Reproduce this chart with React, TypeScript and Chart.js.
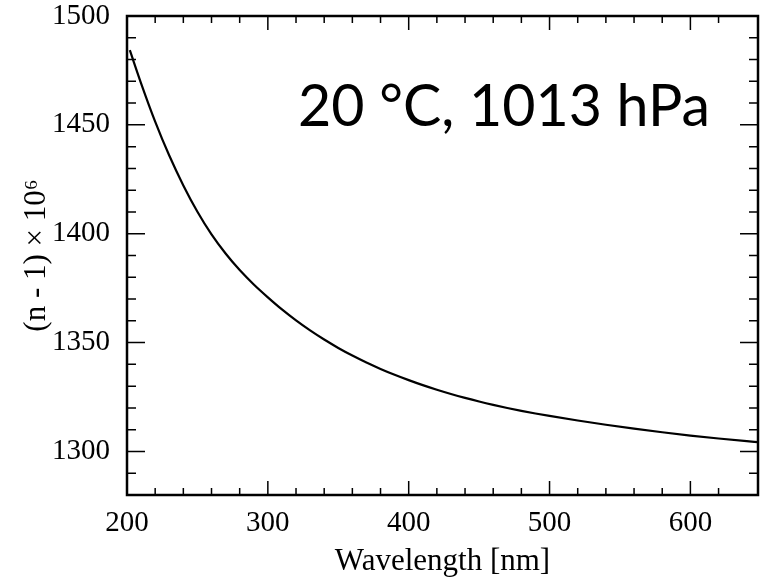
import React, { useEffect, useRef } from "react";
import { Chart, registerables } from "chart.js";

Chart.register(...registerables);

const wavelengths = [202, 210, 220, 230, 240, 250, 260, 270, 280, 290, 300, 310, 320, 330, 340, 350, 360, 370, 380, 390, 400, 410, 420, 430, 440, 450, 460, 470, 480, 490, 500, 520, 540, 560, 580, 600, 620, 640, 648];
const refractivity = [1484.3, 1469.1, 1451.5, 1435.9, 1422.2, 1410.1, 1399.7, 1390.9, 1383.3, 1376.7, 1370.8, 1365.25, 1360.2, 1355.6, 1351.4, 1347.55, 1344.05, 1340.85, 1337.92, 1335.24, 1332.77, 1330.45, 1328.34, 1326.4, 1324.6, 1322.93, 1321.39, 1319.97, 1318.66, 1317.45, 1316.33, 1314.21, 1312.25, 1310.45, 1308.81, 1307.3, 1305.94, 1304.71, 1304.25];
const annotationText = "20 °C, 1013 hPa";
const xTitle = "Wavelength [nm]";
const yTitle = "(n - 1) × 10⁶";

const SERIF = "'Liberation Serif', 'Times New Roman', 'DejaVu Serif', serif";

const framePlugin = {
  id: "frameTicks",
  afterDraw(chart: any) {
    const { ctx, chartArea } = chart;
    const { left, right, top, bottom } = chartArea;
    const xs = chart.scales.x;
    const ys = chart.scales.y;
    ctx.save();
    ctx.strokeStyle = "#000";
    ctx.lineWidth = 1.5;
    ctx.beginPath();
    xs.ticks.forEach((t: any) => {
      if (t.value % 20 !== 0) return;
      const px = xs.getPixelForValue(t.value);
      if (px <= left + 1 || px >= right - 1) return;
      const len = t.value % 100 === 0 ? 14 : 7;
      ctx.moveTo(px, bottom);
      ctx.lineTo(px, bottom - len);
      ctx.moveTo(px, top);
      ctx.lineTo(px, top + len);
    });
    ys.ticks.forEach((t: any) => {
      if (t.value % 10 !== 0) return;
      const py = ys.getPixelForValue(t.value);
      if (py <= top + 1 || py >= bottom - 1) return;
      const len = t.value % 50 === 0 ? 18 : 9;
      ctx.moveTo(left, py);
      ctx.lineTo(left + len, py);
      ctx.moveTo(right, py);
      ctx.lineTo(right - len, py);
    });
    ctx.stroke();
    ctx.lineWidth = 2.5;
    ctx.strokeRect(left, top, right - left, bottom - top);
    // annotation
    let size = 62;
    ctx.font = `${size}px 'Lato', 'Open Sans', sans-serif`;
    const w = ctx.measureText(annotationText).width;
    size = size * 412 / w;
    ctx.font = `${size}px 'Lato', 'Open Sans', sans-serif`;
    ctx.fillStyle = "#000";
    ctx.textAlign = "right";
    ctx.textBaseline = "alphabetic";
    ctx.fillText(annotationText, right - 48, top + 110);
    ctx.restore();
  },
};

export default function App() {
  const ref = useRef<HTMLCanvasElement | null>(null);
  useEffect(() => {
    if (!ref.current) return;
    const chart = new Chart(ref.current, {
      type: "line",
      data: {
        datasets: [
          {
            data: wavelengths.map((w, i) => ({ x: w, y: refractivity[i] })),
            borderColor: "#000",
            borderWidth: 2.2,
            pointRadius: 0,
            cubicInterpolationMode: "monotone",
            fill: false,
          },
        ],
      },
      options: {
        animation: false,
        responsive: true,
        maintainAspectRatio: false,
        layout: { padding: { top: 16, right: 5, left: 0, bottom: 0 } },
        plugins: { legend: { display: false }, tooltip: { enabled: false } },
        scales: {
          x: {
            type: "linear",
            min: 200,
            max: 648,
            afterFit: (s: any) => { s.height = 86; s.paddingLeft = 0; s.paddingRight = 0; },
            border: { display: false },
            grid: { display: false, drawTicks: false },
            ticks: {
              stepSize: 20,
              autoSkip: false,
              maxRotation: 0,
              padding: 11,
              color: "#000",
              font: { family: SERIF, size: 29 },
              callback: (v: any) => (v % 100 === 0 ? String(v) : ""),
            },
            title: {
              display: true,
              text: xTitle,
              color: "#000",
              font: { family: SERIF, size: 31 },
              padding: { top: 0, bottom: 1 },
            },
          },
          y: {
            type: "linear",
            min: 1280,
            max: 1500,
            afterFit: (s: any) => { s.width = 127; s.paddingTop = 0; s.paddingBottom = 0; },
            border: { display: false },
            grid: { display: false, drawTicks: false },
            ticks: {
              stepSize: 10,
              autoSkip: false,
              padding: 17,
              color: "#000",
              font: { family: SERIF, size: 29 },
              callback: (v: any) => (v % 50 === 0 ? String(v) : ""),
            },
            title: {
              display: true,
              text: yTitle,
              color: "#000",
              font: { family: SERIF, size: 31 },
              padding: { top: 18, bottom: 0 },
            },
          },
        },
      } as any,
      plugins: [framePlugin],
    });
    return () => chart.destroy();
  }, []);
  return (
    <div style={{ position: "absolute", left: 0, top: 0, width: 763, height: 581, background: "#fff" }}>
      <canvas ref={ref} />
    </div>
  );
}
